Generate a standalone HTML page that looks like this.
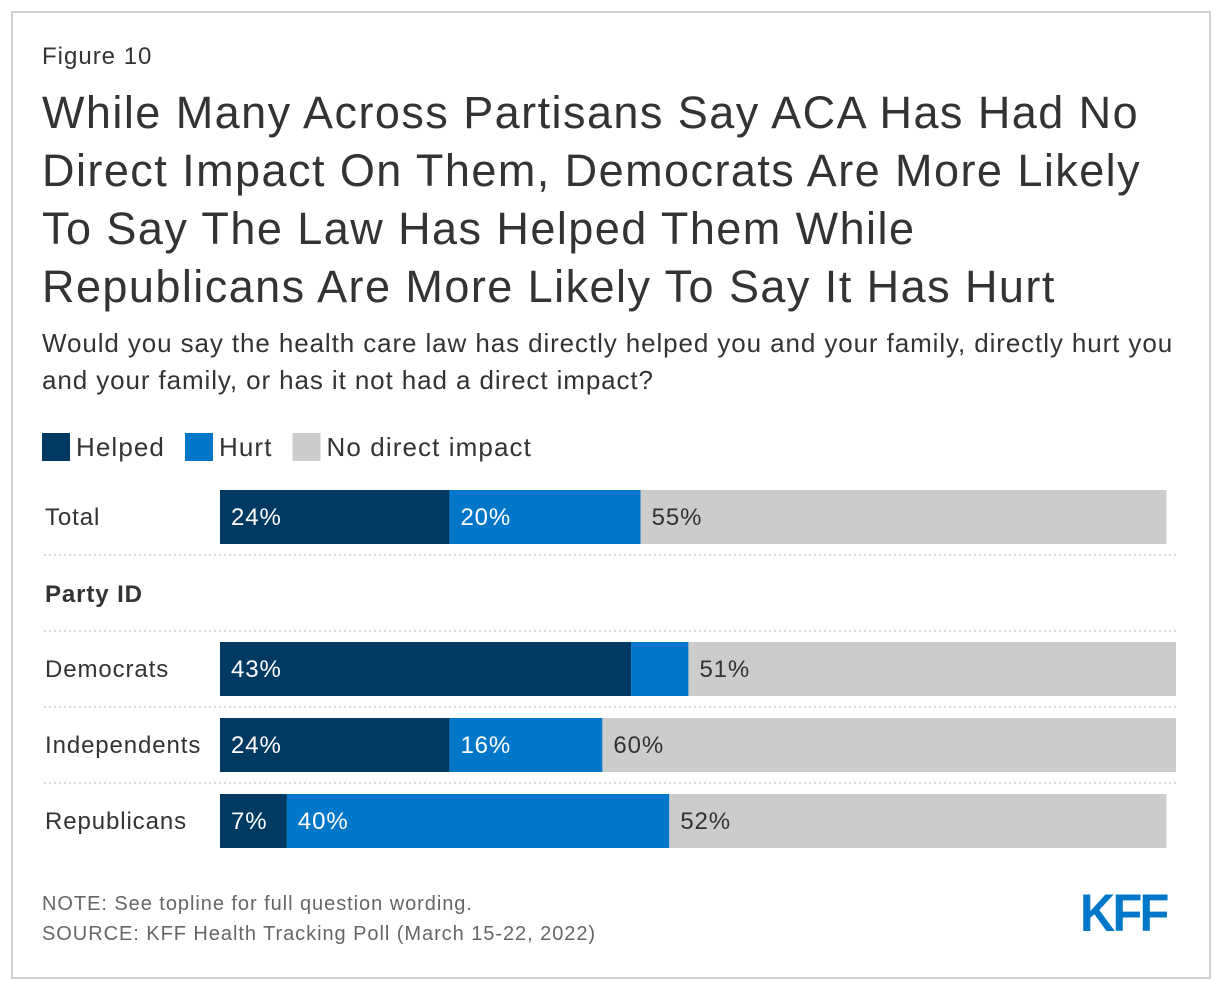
<!DOCTYPE html>
<html><head><meta charset="utf-8"><style>
body{margin:0;background:#fff;font-family:"Liberation Sans",Arial,sans-serif;}
#frame{position:absolute;left:11px;top:11px;width:1196px;height:964px;border:2px solid #d0d0d0;}
.t{position:absolute;left:42px;color:#333;white-space:nowrap;}
</style></head><body>
<div id="frame"></div>
<div class="t" style="top:43px;font-size:24px;letter-spacing:1px;">Figure 10</div>
<div class="t" style="top:84px;font-size:45px;line-height:58px;letter-spacing:1.45px;">While Many Across Partisans Say ACA Has Had No<br>Direct Impact On Them, Democrats Are More Likely<br>To Say The Law Has Helped Them While<br>Republicans Are More Likely To Say It Has Hurt</div>
<div class="t" style="top:325px;font-size:26px;line-height:37px;letter-spacing:0.9px;">Would you say the health care law has directly helped you and your family, directly hurt you<br>and your family, or has it not had a direct impact?</div>
<svg id="chart" width="1220" height="988" style="position:absolute;left:0;top:0"></svg>
<div class="t" style="top:889px;font-size:20px;color:#666;line-height:30px;letter-spacing:0.95px;">NOTE: See topline for full question wording.<br>SOURCE: KFF Health Tracking Poll (March 15-22, 2022)</div>
<div style="position:absolute;left:1080px;top:883px;font-size:53px;font-weight:bold;color:#0077c8;letter-spacing:-3px;transform:scaleX(0.92);transform-origin:left;">KFF</div>
<script>
const categories=["Total","Democrats","Independents","Republicans"];
const helped=[24,43,24,7];
const hurt=[20,6,16,40];
const noImpact=[55,51,60,52];
const hurtLabels=["20%","","16%","40%"];
const seriesNames=["Helped","Hurt","No direct impact"];
const colors=["#003a63","#0077c8","#cccccc"];
const NS="http://www.w3.org/2000/svg";
const svg=document.getElementById('chart');
const x0=220,pxPer=9.56;
const xs=v=>v*pxPer;
const rowY=[490,642,718,794];
function mk(tag,attrs){const e=document.createElementNS(NS,tag);for(const k in attrs)e.setAttribute(k,attrs[k]);svg.appendChild(e);return e;}
function txt(x,y,s,opts){const e=mk('text',Object.assign({x:x,y:y,'font-size':24,fill:'#333','letter-spacing':0.9,'font-family':'Liberation Sans, Arial, sans-serif'},opts||{}));e.textContent=s;return e;}
let lx=42;
seriesNames.forEach((n,i)=>{
 const r=mk('rect',{x:lx,y:433,width:28,height:28,fill:colors[i]});
 
 
 const t=txt(lx+34,456,n,{'font-size':26,'letter-spacing':1.1});
 
 
 lx+=34+t.getComputedTextLength()+20;
});
[555,631,707,783].forEach(y=>{
 const l=mk('line',{x1:44,x2:1176,y1:y,y2:y,stroke:'#cfcfcf','stroke-width':1.5,'stroke-dasharray':'2,3'});
 
 
});
const pl=txt(45,602,'Party ID',{'font-weight':'bold'});


categories.forEach((c,i)=>{
 const y=rowY[i],h=54;
 const lab=txt(45,y+35,c);
 
 
 const vals=[helped[i],hurt[i],noImpact[i]];
 const labels=[helped[i]+'%',hurtLabels[i],noImpact[i]+'%'];
 let x=x0;
 vals.forEach((v,j)=>{
  const w=xs(v);
  const r=mk('rect',{x:x,y:y,width:w,height:h,fill:colors[j]});
  
  
  if(labels[j]){
   const t=txt(x+11,y+35,labels[j],{fill:j==2?'#333':'#fff'});
   
   
  }
  x+=w;
 });
});
</script>
</body></html>
